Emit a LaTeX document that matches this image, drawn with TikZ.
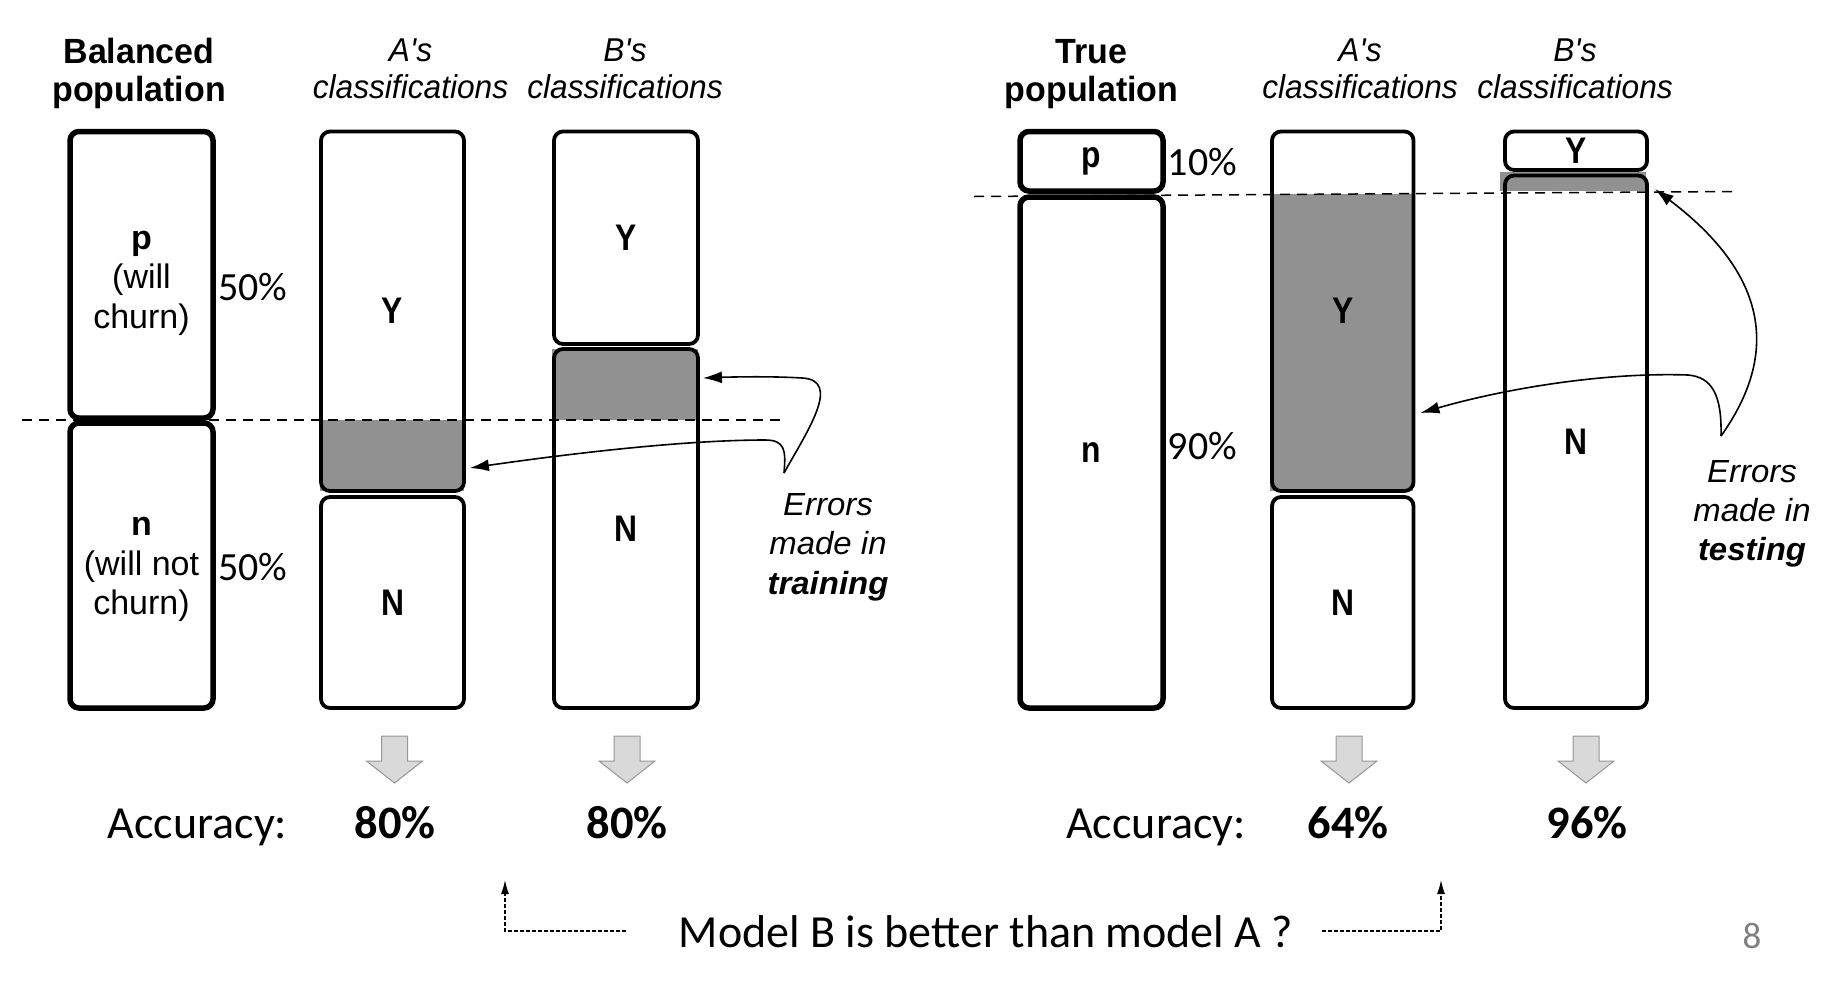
\documentclass[tikz,border=0pt]{standalone}
\usepackage{fontspec}
\setmainfont{Liberation Sans}
\newfontfamily\carl{Carlito}
\newfontfamily\hvh[FakeStretch=0.97]{Liberation Sans}
\newfontfamily\hvi[FakeStretch=0.96]{Liberation Sans}
\newfontfamily\hvw[FakeStretch=1.03]{Liberation Sans}
\newfontfamily\hvc[FakeStretch=0.86]{Liberation Sans}
\usetikzlibrary{arrows.meta}
\definecolor{errgray}{RGB}{145,145,145}
\definecolor{arrfill}{RGB}{217,217,217}
\definecolor{arredge}{RGB}{150,150,150}
\newcommand{\yn}[1]{{\hvc\bfseries\fontsize{37}{40}\selectfont #1}}
\tikzset{
  box/.style={draw, rounded corners=9pt, line width=3.8pt, inner sep=0pt, align=center},
  popbox/.style={box, line width=5.5pt},
  boxtxt/.style={inner sep=0pt, align=center, font=\fontsize{34}{39.5}\selectfont},
  head/.style={inner sep=0pt, anchor=base, font=\hvh\bfseries\fontsize{35}{37}\selectfont},
  ihead/.style={inner sep=0pt, anchor=base, font=\hvi\itshape\fontsize{33}{37}\selectfont},
  pct/.style={inner sep=0pt, anchor=base, font=\carl\fontsize{40}{47}\selectfont},
  acc/.style={inner sep=0pt, anchor=base, font=\carl\fontsize{46}{52}\selectfont},
  accb/.style={inner sep=0pt, anchor=base, font=\carl\bfseries\fontsize{46.5}{52}\selectfont},
  note/.style={inner sep=0pt, anchor=base, font=\hvw\itshape\fontsize{32}{40}\selectfont},
  notb/.style={inner sep=0pt, anchor=base, font=\hvw\bfseries\itshape\fontsize{32}{40}\selectfont},
  cut/.style={line width=1.5pt, dash pattern=on 10pt off 7pt},
  conn/.style={line width=1.6pt, -{Latex[length=19pt,width=12pt]}},
  qconn/.style={line width=1.2pt, dash pattern=on 4pt off 2pt, -{Latex[length=14pt,width=8pt]}},
  downarr/.style={fill=arrfill, draw=arredge, line width=1pt},
}
\begin{document}
\begin{tikzpicture}[x=1pt,y=-1pt]
\useasboundingbox (0,0) rectangle (1838,999);

% error regions
\fill[errgray] (320,420) rectangle (464,491);
\fill[errgray] (552,349) rectangle (698,420);
\fill[errgray] (1270,194) rectangle (1413,491);
\fill[errgray] (1500,172) rectangle (1646,191);

% left panel boxes
\node[popbox, minimum width=143pt, minimum height=286.5pt] (bpP) at (141.5,274.75) {};
\node[boxtxt] (bpPt) at (141.5,283) {\textbf{p}\\(will\\churn)};
\node[popbox, minimum width=143pt, minimum height=285pt] (bpN) at (141.5,565.5) {};
\node[boxtxt] (bpNt) at (141.5,569.5) {\textbf{n}\\(will not\\churn)};
\node[box, minimum width=143pt, minimum height=359.5pt] (aY) at (392.5,311.25) {\yn{Y}};
\node[box, minimum width=143pt, minimum height=211pt] (aN) at (392.5,602.5) {\yn{N}};
\node[box, minimum width=144pt, minimum height=212.5pt] (bY) at (626,237.75) {\yn{Y}};
\node[box, minimum width=144pt, minimum height=359pt] (bN) at (626,528.5) {\yn{N}};

% right panel boxes
\node[popbox, minimum width=143pt, minimum height=59.5pt] (tpP) at (1091.5,161.25) {\yn{p}};
\node[popbox, minimum width=143pt, minimum height=511pt] (tpN) at (1091.5,452.5) {\yn{n}};
\node[box, minimum width=141.5pt, minimum height=359.5pt] (a2Y) at (1342.75,311.25) {\yn{Y}};
\node[box, minimum width=141.5pt, minimum height=211pt] (a2N) at (1342.75,602.5) {\yn{N}};
\node[box, minimum width=142pt, minimum height=38.5pt] (b2Y) at (1576,150.75) {\yn{Y}};
\node[box, minimum width=142pt, minimum height=532.5pt] (b2N) at (1576,441.75) {\yn{N}};

% cut lines
\draw[cut] (22,420) -- (782,420);
\draw[cut] (974,196.5) -- (1735,191.5);

% headers
\node[head] (hB1) at (139,63) {Balanced};
\node[head] (hB2) at (139,101) {population};
\node[ihead] (hA1) at (410.5,61) {A\textquotesingle s};
\node[ihead] (hA2) at (410.5,98) {classifications};
\node[ihead] (hC1) at (625,61) {B\textquotesingle s};
\node[ihead] (hC2) at (625,98) {classifications};
\node[head] (hT1) at (1091.5,63) {True};
\node[head] (hT2) at (1091.5,101) {population};
\node[ihead] (hD1) at (1360,61) {A\textquotesingle s};
\node[ihead] (hD2) at (1360,98) {classifications};
\node[ihead] (hE1) at (1575,61) {B\textquotesingle s};
\node[ihead] (hE2) at (1575,98) {classifications};

% percentages
\node[pct] (p50a) at (253,300) {50\%};
\node[pct] (p50b) at (253,580) {50\%};
\node[pct] (p10) at (1202.5,175.5) {10\%};
\node[pct] (p90) at (1202.5,459) {90\%};

% error notes
\node[note] (tr1) at (828,515) {Errors};
\node[note] (tr2) at (828,554.5) {made in};
\node[notb] (tr3) at (828,594) {training};
\node[note] (te1) at (1752,482) {Errors};
\node[note] (te2) at (1752,521) {made in};
\node[notb] (te3) at (1752,560) {testing};

\coordinate (trs) at (784,473);
\coordinate (tes) at (1721,436);
\draw[conn] (trs) .. controls (808,430) and (842,380) .. (802,378) .. controls (770,376) and (730,377) .. ([xshift=3pt,yshift=150.5pt]bN.east);
\draw[conn] (trs) .. controls (786,450) and (785,440) .. (765,440) .. controls (680,440) and (560,455) .. ([xshift=4pt,yshift=-156.75pt]aY.east);
\draw[conn] (tes) .. controls (1775,360) and (1775,280) .. ([xshift=6pt,yshift=252.75pt]b2N.east);
\draw[conn] (tes) .. controls (1722,395) and (1712,377) .. (1688,375) .. controls (1600,372) and (1500,390) .. ([xshift=5pt,yshift=-101.75pt]a2Y.east);

% block arrows
\foreach \cx in {394.5,627,1349,1586} {
  \filldraw[downarr] (\cx-13,736) -- (\cx+13,736) -- (\cx+13,761) -- (\cx+28,761) -- (\cx,783) -- (\cx-28,761) -- (\cx-13,761) -- cycle;
}

% accuracy row
\node[acc] (accL) at (197.5,838) {Accuracy:};
\node[accb] (vAL) at (395,838) {80\%};
\node[accb] (vBL) at (627,838) {80\%};
\node[acc] (accR) at (1156,838) {Accuracy:};
\node[accb] (vAR) at (1348,838) {64\%};
\node[accb] (vBR) at (1587,838) {96\%};

% question
\node[acc] (model) at (986,947) {Model B is better than model A ?};
\coordinate (qL1) at (626,931);
\coordinate (qL2) at (505,880);
\coordinate (qR1) at (1322,931);
\coordinate (qR2) at (1441,880);
\draw[qconn] (qL1) -| (qL2);
\draw[qconn] (qR1) -| (qR2);

\node[inner sep=0pt, anchor=base, font=\carl\fontsize{37}{42}\selectfont, text=gray] (page) at (1752,948) {8};
\end{tikzpicture}
\end{document}
